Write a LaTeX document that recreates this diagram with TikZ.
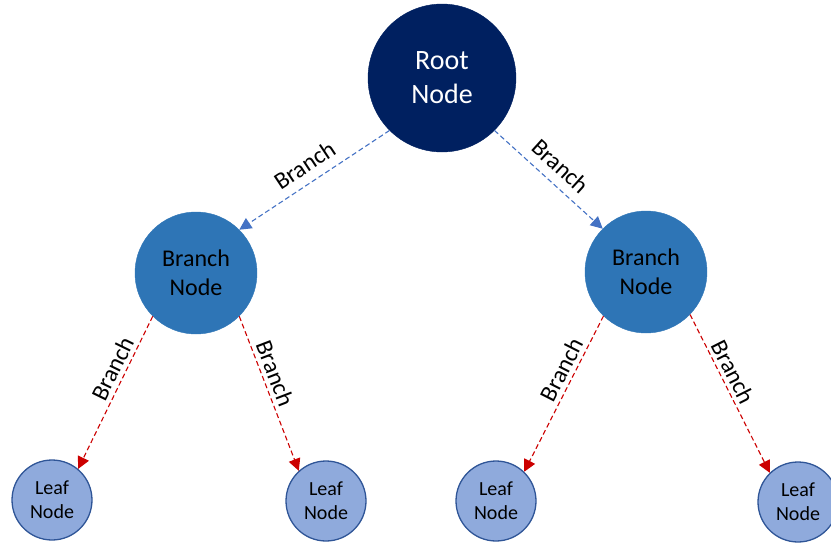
\documentclass[tikz,border=0pt]{standalone}
\usepackage{fontspec}
\setmainfont{Carlito}
\usetikzlibrary{arrows.meta}
\definecolor{rootfill}{HTML}{002060}
\definecolor{branchfill}{HTML}{2E75B6}
\definecolor{leaffill}{HTML}{8FAADC}
\definecolor{leafdraw}{HTML}{2F5597}
\definecolor{bluelink}{HTML}{4472C4}
\definecolor{redlink}{HTML}{CC0000}
\tikzset{
  rootnode/.style={circle, fill=rootfill, draw=rootfill, minimum size=148pt, inner sep=0pt,
    text=white, align=center, font=\fontsize{28}{34}\selectfont},
  branchnode/.style={circle, fill=branchfill, draw=branchfill, minimum size=122pt, inner sep=0pt,
    text=black, align=center, font=\fontsize{24}{29}\selectfont},
  leafnode/.style={circle, fill=leaffill, draw=leafdraw, line width=1.3pt, minimum size=80pt, inner sep=0pt,
    text=black, align=center, font=\fontsize{20}{24}\selectfont},
  bluelinkstyle/.style={draw=bluelink, line width=1.1pt, dash pattern=on 5pt off 3pt,
    -{Triangle[length=12pt,width=12pt]}, bluelink},
  redlinkstyle/.style={draw=redlink, line width=1.1pt, dash pattern=on 5pt off 3pt,
    -{Triangle[length=12pt,width=12pt]}, redlink},
  edgelabel/.style={font=\fontsize{24}{28}\selectfont, text=black, sloped, inner sep=2pt}
}
\begin{document}
\begin{tikzpicture}[x=1pt,y=-1pt]
\useasboundingbox (0,0) rectangle (831,544);
\clip (0,0) rectangle (831,544);
\node[rootnode] (root) at (442,78) {Root\\Node};
\node[branchnode] (b1) at (196,273) {Branch\\Node};
\node[branchnode] (b2) at (646,272) {Branch\\Node};
\node[leafnode] (l1) at (52,500) {Leaf\\Node};
\node[leafnode] (l2) at (326,501) {Leaf\\Node};
\node[leafnode] (l3) at (496,501) {Leaf\\Node};
\node[leafnode] (l4) at (798,502) {Leaf\\Node};

\draw[bluelinkstyle] (root.225) -- node[edgelabel, above=7pt, pos=0.5] (lab1) {Branch} (b1.45);
\draw[bluelinkstyle] (root.-45) -- node[edgelabel, above=7pt, pos=0.5] (lab2) {Branch} (b2.135);
\draw[redlinkstyle] (b1.225) -- node[edgelabel, above=2pt, pos=0.38] (lab3) {Branch} (l1.50);
\draw[redlinkstyle] (b1.-45) -- node[edgelabel, above=2pt, pos=0.4] (lab4) {Branch} (l2.132);
\draw[redlinkstyle] (b2.226) -- node[edgelabel, above=2pt, pos=0.38] (lab5) {Branch} (l3.46);
\draw[redlinkstyle] (b2.-44) -- node[edgelabel, above=2pt, pos=0.4] (lab6) {Branch} (l4.134);
\end{tikzpicture}
\end{document}
